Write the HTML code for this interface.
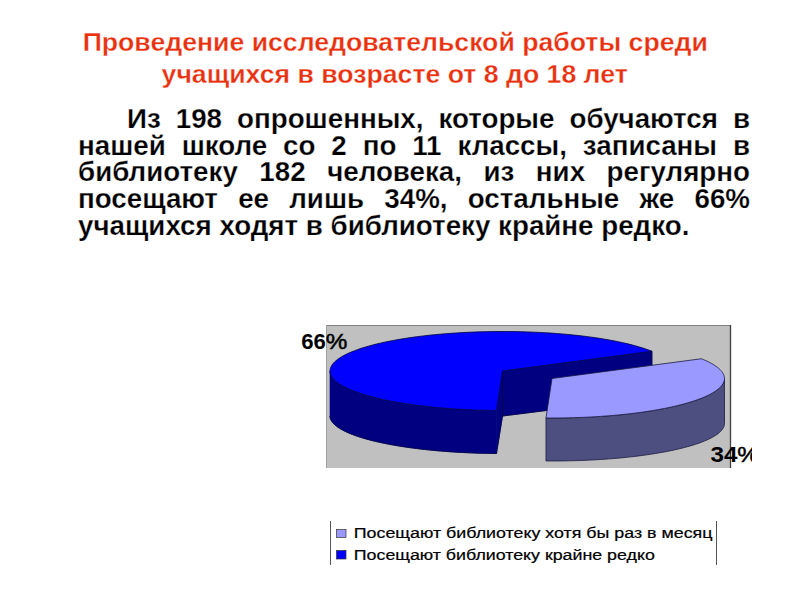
<!DOCTYPE html>
<html><head><meta charset="utf-8"><style>
html,body{margin:0;padding:0;background:#fff;width:800px;height:600px;overflow:hidden;position:relative}
body{font-family:"Liberation Sans",sans-serif}
.t{position:absolute;left:0;width:790px;text-align:center;color:#e8310f;font-weight:bold;font-size:25px;white-space:pre;line-height:0}
.t span{display:inline-block;-webkit-text-stroke:0.3px #fff;paint-order:normal;transform:scaleX(1.066);transform-origin:center}
.ln{position:absolute;font-weight:bold;font-size:27px;color:#000;line-height:0;height:0;-webkit-text-stroke:0.25px #fff;text-align:justify;text-align-last:justify;transform-origin:0 0;white-space:normal}
.ln.last{text-align:left;text-align-last:left}
.lab{position:absolute;font-weight:bold;font-size:20px;line-height:0;color:#000;letter-spacing:-1px;white-space:pre}
.leg{position:absolute;font-size:13px;line-height:0;white-space:pre;transform-origin:0 0;transform:scaleX(1.37)}
</style></head><body>
<div class="t" style="top:42.34px"><span>Проведение исследовательской работы среди</span></div>
<div class="t" style="top:73.84px"><span>учащихся в возрасте от 8 до 18 лет</span></div>
<div class="ln" style="left:127px;top:118.9px;width:606.62px;transform:scaleX(1.027);"><span>Из 198 опрошенных, которые обучаются в</span></div>
<div class="ln" style="left:78px;top:145.6px;width:654.33px;transform:scaleX(1.027);"><span>нашей школе со 2 по 11 классы, записаны в</span></div>
<div class="ln" style="left:78px;top:172.3px;width:654.33px;transform:scaleX(1.027);"><span>библиотеку 182 человека, из них регулярно</span></div>
<div class="ln" style="left:78px;top:199.0px;width:654.33px;transform:scaleX(1.027);"><span>посещают ее лишь 34%, остальные же 66%</span></div>
<div class="ln last" style="left:78px;top:225.7px;width:654.33px;transform:scaleX(1.027);"><span>учащихся ходят в библиотеку крайне редко.</span></div>

<svg width="800" height="600" style="position:absolute;left:0;top:0">
<defs><clipPath id="cc"><rect x="0" y="0" width="752" height="600"/></clipPath></defs>
<rect x="326" y="325" width="405" height="143" fill="#c0c0c0"/>
<line x1="326" y1="325.5" x2="731" y2="325.5" stroke="#808080" stroke-width="1"/>
<line x1="730.5" y1="325" x2="730.5" y2="468" stroke="#404040" stroke-width="1.3"/>
<line x1="326.5" y1="325" x2="326.5" y2="468" stroke="#a0a0a0" stroke-width="1"/>
<path fill="#000080" d="M496.48,410.48 L492.07,410.43 L487.67,410.35 L483.27,410.25 L478.89,410.13 L474.52,409.98 L470.18,409.80 L465.85,409.60 L461.55,409.37 L457.27,409.12 L453.03,408.84 L448.81,408.54 L444.63,408.21 L440.49,407.86 L436.39,407.48 L432.34,407.09 L428.33,406.66 L424.37,406.22 L420.45,405.75 L416.60,405.25 L412.80,404.74 L409.06,404.20 L405.37,403.64 L401.76,403.06 L398.21,402.46 L394.72,401.84 L391.31,401.20 L387.97,400.54 L384.71,399.86 L381.52,399.16 L378.41,398.44 L375.39,397.70 L372.44,396.95 L369.59,396.18 L366.82,395.39 L364.13,394.59 L361.54,393.77 L359.04,392.94 L356.64,392.09 L354.33,391.23 L352.12,390.35 L350.00,389.46 L347.99,388.56 L346.08,387.65 L344.27,386.73 L342.56,385.80 L340.96,384.85 L339.46,383.90 L338.07,382.94 L336.79,381.98 L335.62,381.00 L334.56,380.02 L333.60,379.03 L332.76,378.04 L332.03,377.04 L331.41,376.04 L330.90,375.04 L330.51,374.03 L330.23,373.02 L330.06,372.01 L330.00,371.00 L330.00,416.00 L330.06,416.96 L330.23,417.92 L330.51,418.88 L330.90,419.83 L331.41,420.79 L332.03,421.74 L332.76,422.68 L333.60,423.63 L334.56,424.56 L335.62,425.49 L336.79,426.42 L338.07,427.34 L339.46,428.25 L340.96,429.15 L342.56,430.05 L344.27,430.93 L346.08,431.81 L347.99,432.67 L350.00,433.53 L352.12,434.37 L354.33,435.20 L356.64,436.02 L359.04,436.82 L361.54,437.62 L364.13,438.39 L366.82,439.16 L369.59,439.90 L372.44,440.64 L375.39,441.35 L378.41,442.05 L381.52,442.73 L384.71,443.40 L387.97,444.04 L391.31,444.67 L394.72,445.28 L398.21,445.87 L401.76,446.44 L405.37,446.99 L409.06,447.52 L412.80,448.03 L416.60,448.52 L420.45,448.99 L424.37,449.43 L428.33,449.86 L432.34,450.26 L436.39,450.64 L440.49,450.99 L444.63,451.33 L448.81,451.64 L453.03,451.92 L457.27,452.19 L461.55,452.43 L465.85,452.64 L470.18,452.84 L474.52,453.00 L478.89,453.15 L483.27,453.27 L487.67,453.36 L492.07,453.43 L496.48,453.48Z" stroke="#000080" stroke-width="0.6" stroke-linejoin="round"/>
<path fill="#000080" d="M502.50,371.00 L496.48,410.48 L496.48,453.48 L502.50,416.00Z" stroke="#000080" stroke-width="0.6" stroke-linejoin="round"/>
<path fill="#000080" d="M502.50,371.00 L651.89,351.25 L651.89,397.25 L502.50,416.00Z" stroke="#000080" stroke-width="0.6" stroke-linejoin="round"/>
<path fill="none" stroke="#000040" stroke-width="0.8" stroke-linejoin="round" d="M330.00,416.00 L330.06,416.96 L330.23,417.92 L330.51,418.88 L330.90,419.83 L331.41,420.79 L332.03,421.74 L332.76,422.68 L333.60,423.63 L334.56,424.56 L335.62,425.49 L336.79,426.42 L338.07,427.34 L339.46,428.25 L340.96,429.15 L342.56,430.05 L344.27,430.93 L346.08,431.81 L347.99,432.67 L350.00,433.53 L352.12,434.37 L354.33,435.20 L356.64,436.02 L359.04,436.82 L361.54,437.62 L364.13,438.39 L366.82,439.16 L369.59,439.90 L372.44,440.64 L375.39,441.35 L378.41,442.05 L381.52,442.73 L384.71,443.40 L387.97,444.04 L391.31,444.67 L394.72,445.28 L398.21,445.87 L401.76,446.44 L405.37,446.99 L409.06,447.52 L412.80,448.03 L416.60,448.52 L420.45,448.99 L424.37,449.43 L428.33,449.86 L432.34,450.26 L436.39,450.64 L440.49,450.99 L444.63,451.33 L448.81,451.64 L453.03,451.92 L457.27,452.19 L461.55,452.43 L465.85,452.64 L470.18,452.84 L474.52,453.00 L478.89,453.15 L483.27,453.27 L487.67,453.36 L492.07,453.43 L496.48,453.48 L496.48,453.48 L502.50,416.00 L651.89,397.25 L651.89,351.25"/>
<path fill="none" stroke="#000040" stroke-width="0.8" stroke-linejoin="round" d="M502.50,371.00 L502.50,416.00"/>
<path fill="#0000ff" d="M502.50,371.00 L496.48,410.48 L490.52,410.40 L484.57,410.29 L478.64,410.12 L472.74,409.91 L466.88,409.65 L461.06,409.34 L455.29,408.99 L449.58,408.60 L443.93,408.15 L438.35,407.67 L432.84,407.14 L427.42,406.56 L422.09,405.95 L416.86,405.29 L411.73,404.59 L406.71,403.85 L401.80,403.07 L397.01,402.25 L392.35,401.40 L387.82,400.51 L383.43,399.58 L379.18,398.62 L375.08,397.63 L371.13,396.60 L367.34,395.54 L363.72,394.46 L360.25,393.34 L356.96,392.20 L353.84,391.04 L350.90,389.85 L348.15,388.64 L345.57,387.40 L343.19,386.15 L340.99,384.88 L338.99,383.59 L337.19,382.28 L335.58,380.97 L334.18,379.64 L332.97,378.30 L331.97,376.95 L331.17,375.60 L330.58,374.24 L330.19,372.87 L330.01,371.51 L330.04,370.14 L330.27,368.77 L330.71,367.41 L331.36,366.05 L332.21,364.70 L333.27,363.35 L334.52,362.01 L335.98,360.69 L337.64,359.37 L339.50,358.07 L341.55,356.79 L343.79,355.52 L346.23,354.28 L348.85,353.05 L351.65,351.84 L354.64,350.66 L357.80,349.50 L361.14,348.36 L364.64,347.26 L368.32,346.18 L372.15,345.13 L376.14,344.11 L380.28,343.13 L384.56,342.17 L388.99,341.26 L393.55,340.38 L398.25,339.53 L403.07,338.72 L408.00,337.95 L413.05,337.23 L418.21,336.54 L423.47,335.89 L428.83,335.28 L434.27,334.72 L439.79,334.20 L445.39,333.73 L451.06,333.30 L456.79,332.91 L462.57,332.57 L468.40,332.28 L474.28,332.03 L480.18,331.83 L486.12,331.68 L492.07,331.57 L498.03,331.51 L504.01,331.50 L509.97,331.54 L515.93,331.62 L521.88,331.75 L527.80,331.93 L533.69,332.15 L539.54,332.42 L545.35,332.74 L551.11,333.10 L556.81,333.51 L562.44,333.96 L568.00,334.46 L573.49,335.00 L578.88,335.58 L584.19,336.21 L589.40,336.88 L594.51,337.59 L599.50,338.34 L604.38,339.13 L609.14,339.95 L613.76,340.82 L618.26,341.72 L622.62,342.65 L626.83,343.62 L630.89,344.62 L634.80,345.65 L638.56,346.72 L642.14,347.81 L645.57,348.93 L648.81,350.08 L651.89,351.25Z" stroke="#000040" stroke-width="0.8" stroke-linejoin="round"/>
<path fill="#4d4f80" d="M724.50,378.50 L724.44,379.56 L724.25,380.61 L723.94,381.67 L723.51,382.72 L722.96,383.77 L722.28,384.82 L721.48,385.86 L720.56,386.89 L719.52,387.92 L718.36,388.95 L717.08,389.96 L715.68,390.97 L714.17,391.97 L712.53,392.96 L710.79,393.93 L708.93,394.90 L706.95,395.86 L704.87,396.80 L702.68,397.73 L700.38,398.65 L697.97,399.55 L695.46,400.44 L692.84,401.31 L690.13,402.16 L687.31,403.00 L684.40,403.82 L681.39,404.62 L678.30,405.41 L675.11,406.17 L671.83,406.91 L668.47,407.64 L665.02,408.34 L661.49,409.02 L657.88,409.68 L654.20,410.32 L650.45,410.94 L646.62,411.53 L642.73,412.09 L638.77,412.64 L634.75,413.16 L630.67,413.65 L626.53,414.12 L622.35,414.57 L618.11,414.98 L613.82,415.38 L609.49,415.74 L605.11,416.08 L600.70,416.39 L596.26,416.68 L591.78,416.94 L587.28,417.17 L582.74,417.37 L578.19,417.54 L573.62,417.69 L569.03,417.81 L564.43,417.90 L559.83,417.96 L555.21,417.99 L550.60,418.00 L545.98,417.98 L545.98,460.98 L550.60,461.00 L555.21,460.99 L559.83,460.96 L564.43,460.90 L569.03,460.82 L573.62,460.70 L578.19,460.57 L582.74,460.40 L587.28,460.21 L591.78,459.99 L596.26,459.74 L600.70,459.47 L605.11,459.18 L609.49,458.86 L613.82,458.51 L618.11,458.14 L622.35,457.74 L626.53,457.32 L630.67,456.87 L634.75,456.40 L638.77,455.91 L642.73,455.39 L646.62,454.85 L650.45,454.29 L654.20,453.71 L657.88,453.10 L661.49,452.48 L665.02,451.83 L668.47,451.16 L671.83,450.48 L675.11,449.77 L678.30,449.04 L681.39,448.30 L684.40,447.54 L687.31,446.76 L690.13,445.96 L692.84,445.15 L695.46,444.32 L697.97,443.48 L700.38,442.63 L702.68,441.76 L704.87,440.87 L706.95,439.98 L708.93,439.07 L710.79,438.15 L712.53,437.22 L714.17,436.28 L715.68,435.34 L717.08,434.38 L718.36,433.42 L719.52,432.45 L720.56,431.47 L721.48,430.48 L722.28,429.50 L722.96,428.50 L723.51,427.51 L723.94,426.51 L724.25,425.51 L724.44,424.50 L724.50,423.50Z" stroke="#1a1a40" stroke-width="0.8" stroke-linejoin="round"/>
<path fill="#9999ff" d="M552.00,378.50 L701.39,358.75 L703.63,359.67 L705.77,360.60 L707.79,361.54 L709.71,362.50 L711.51,363.46 L713.20,364.44 L714.78,365.43 L716.24,366.43 L717.59,367.43 L718.82,368.44 L719.93,369.46 L720.92,370.49 L721.79,371.52 L722.54,372.56 L723.17,373.60 L723.68,374.65 L724.06,375.69 L724.33,376.74 L724.47,377.79 L724.49,378.84 L724.39,379.90 L724.17,380.95 L723.82,381.99 L723.36,383.04 L722.77,384.08 L722.06,385.12 L721.23,386.16 L720.28,387.18 L719.21,388.21 L718.02,389.22 L716.72,390.23 L715.30,391.23 L713.76,392.22 L712.11,393.20 L710.34,394.17 L708.47,395.13 L706.48,396.08 L704.38,397.01 L702.17,397.94 L699.86,398.84 L697.44,399.74 L694.92,400.62 L692.30,401.48 L689.58,402.33 L686.77,403.16 L683.85,403.97 L680.85,404.76 L677.75,405.54 L674.56,406.30 L671.29,407.03 L667.93,407.75 L664.49,408.45 L660.97,409.12 L657.37,409.77 L653.70,410.41 L649.95,411.01 L646.14,411.60 L642.26,412.16 L638.32,412.70 L634.31,413.21 L630.25,413.70 L626.13,414.17 L621.96,414.61 L617.73,415.02 L613.47,415.41 L609.16,415.77 L604.80,416.10 L600.42,416.41 L595.99,416.69 L591.54,416.95 L587.05,417.18 L582.55,417.38 L578.02,417.55 L573.47,417.69 L568.91,417.81 L564.33,417.90 L559.75,417.96 L555.16,417.99 L550.57,418.00 L545.98,417.98Z" stroke="#1a1a40" stroke-width="0.8" stroke-linejoin="round"/>
<line x1="330.5" y1="521" x2="330.5" y2="565" stroke="#555" stroke-width="1"/>
<line x1="716.5" y1="521" x2="716.5" y2="565" stroke="#555" stroke-width="1"/>
<rect x="336.5" y="529.5" width="9.5" height="8" fill="#9999ff" stroke="#333" stroke-width="0.7"/>
<rect x="336.5" y="550.5" width="9.5" height="8.5" fill="#0000ff" stroke="#333" stroke-width="0.7"/>
<g font-family="Liberation Sans" fill="#000">
<text x="301.2" y="348.6" font-size="22" font-weight="bold" textLength="24.6" lengthAdjust="spacingAndGlyphs">66</text>
<text x="325.8" y="348.6" font-size="22" stroke="#000" stroke-width="0.5" textLength="21.6" lengthAdjust="spacingAndGlyphs">%</text>
<g clip-path="url(#cc)">
<text x="710.6" y="462" font-size="22" font-weight="bold" textLength="27" lengthAdjust="spacingAndGlyphs">34</text>
<text x="737.2" y="462" font-size="22" stroke="#000" stroke-width="0.5" textLength="21.6" lengthAdjust="spacingAndGlyphs">%</text>
</g>
<text x="353.8" y="538.3" font-size="14" stroke="#000" stroke-width="0.2" textLength="358.7" lengthAdjust="spacingAndGlyphs">Посещают библиотеку хотя бы раз в месяц</text>
<text x="353.8" y="559.6" font-size="14" stroke="#000" stroke-width="0.2" textLength="301" lengthAdjust="spacingAndGlyphs">Посещают библиотеку крайне редко</text>
</g>
</svg>
</body></html>
